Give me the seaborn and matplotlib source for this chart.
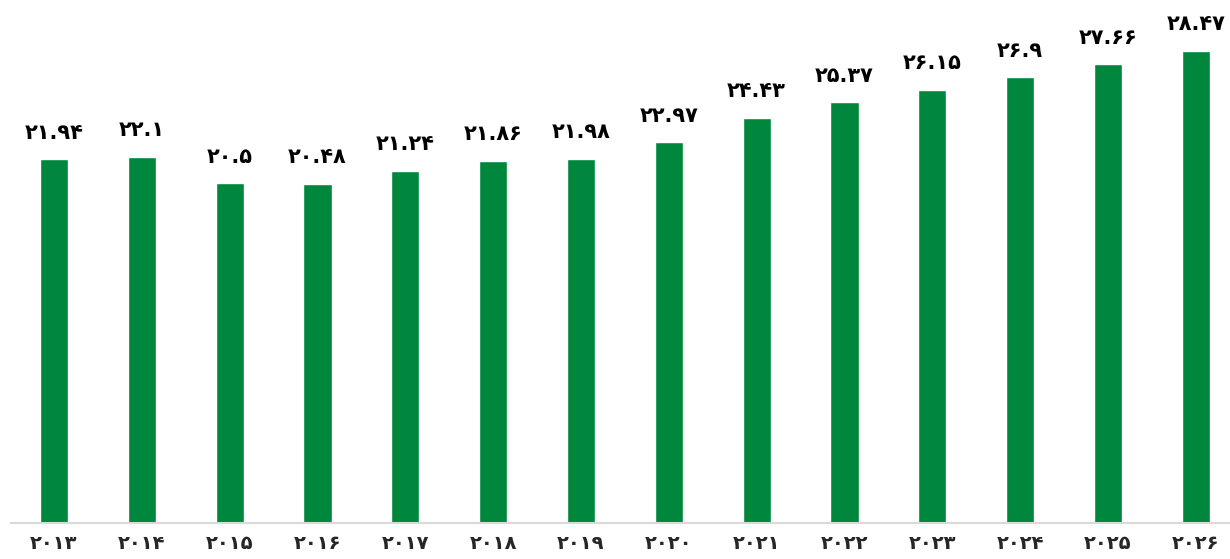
import matplotlib
matplotlib.use('Agg')
import matplotlib.pyplot as plt
import seaborn as sns
import pandas as pd

years = ['2013', '2014', '2015', '2016', '2017', '2018', '2019',
         '2020', '2021', '2022', '2023', '2024', '2025', '2026']
values = [21.94, 22.1, 20.5, 20.48, 21.24, 21.86, 21.98,
          22.97, 24.43, 25.37, 26.15, 26.9, 27.66, 28.47]

PERSIAN = str.maketrans('0123456789', '۰۱۲۳۴۵۶۷۸۹')


def fa(s):
    return str(s).translate(PERSIAN)


df = pd.DataFrame({'year': years, 'value': values})

sns.set_theme(style='white')
plt.rcParams['font.family'] = ['DejaVu Sans']

fig = plt.figure(figsize=(12.3, 5.59), dpi=100)
ax = fig.add_axes([11 / 1230, 36 / 559, 1219 / 1230, 523 / 559])
sns.barplot(data=df, x='year', y='value', color='#00873E', width=0.32,
            saturation=1, ax=ax)

for i, v in enumerate(values):
    ax.text(i, v + 1.0, fa(v), ha='center', va='bottom',
            fontsize=15, fontweight='bold', color='black')

ax.set_xlim(-0.49, 13.39)
ax.set_ylim(0, 31.55)
ax.set_xticks(range(len(years)))
ax.set_xticklabels([fa(y) for y in years], fontsize=14, fontweight='bold')
ax.tick_params(axis='x', length=0, pad=8)
ax.set_yticks([])
ax.set_xlabel('')
ax.set_ylabel('')
for side in ['top', 'left', 'right']:
    ax.spines[side].set_visible(False)
ax.spines['bottom'].set_color('#d9d9d9')
ax.spines['bottom'].set_linewidth(1.5)

fig.savefig('out.png', dpi=100)
